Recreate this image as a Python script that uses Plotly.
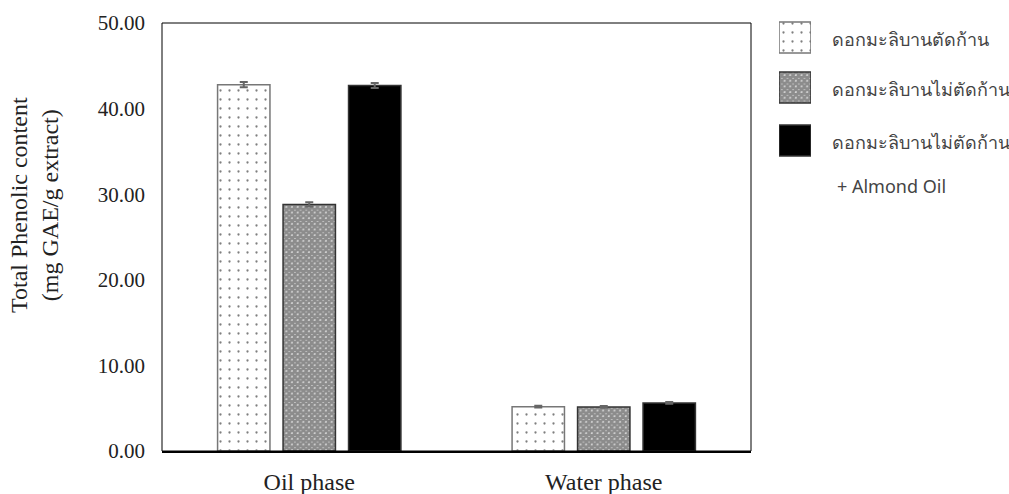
import plotly.graph_objects as go

categories = ["Oil phase", "Water phase"]
series_names = ["ดอกมะลิบานตัดก้าน", "ดอกมะลิบานไม่ตัดก้าน", "ดอกมะลิบานไม่ตัดก้าน"]
legend_extra = "+ Almond Oil"
y_title = "Total Phenolic content<br>(mg GAE/g extract)"
values_cut = [42.8, 5.18]
values_uncut = [28.8, 5.15]
values_almond = [42.7, 5.62]
err_cut = [0.3, 0.1]
err_uncut = [0.25, 0.1]
err_almond = [0.3, 0.1]
y_ticks = [0, 10, 20, 30, 40, 50]
y_tick_labels = ["0.00", "10.00", "20.00", "30.00", "40.00", "50.00"]

W, H = 1009, 494
ML, MR, MT, MB = 162, 9, 10, 43
PW, PH = W - ML - MR, H - MT - MB
main_x_end = (751 - ML) / PW
main_y_end = (451 - 23) / PH

def px_x(p):
    return (p - ML) / PW

dot_marker = dict(color="white", line=dict(color="#777777", width=1.5),
                  pattern=dict(shape=".", fgcolor="black", bgcolor="white", size=9, solidity=0.05))
grid_marker = dict(color="white", line=dict(color="#333333", width=1.5),
                   pattern=dict(shape="x", fgcolor="#1a1a1a", bgcolor="white", size=4, solidity=0.9))
solid_marker = dict(color="black", line=dict(color="#333333", width=1.5))
markers = [dot_marker, grid_marker, solid_marker]

fig = go.Figure()
err_style = dict(type="data", color="#666666", thickness=2, width=4)

for vals, errs, name, mk in zip([values_cut, values_uncut, values_almond],
                                [err_cut, err_uncut, err_almond], series_names, markers):
    fig.add_trace(go.Bar(x=categories, y=vals, name=name, showlegend=False,
                         error_y=dict(array=errs, **err_style), marker=mk))

# custom legend boxes (pixel-like coordinates on an auxiliary axis)
legend_tops = [22, 72, 125]
legend_h = 31
for top, name, mk in zip(legend_tops, series_names, markers):
    fig.add_trace(go.Bar(x=[0], y=[legend_h], base=[top], offset=0, width=1,
                         xaxis="x2", yaxis="y2", marker=mk, showlegend=False,
                         hoverinfo="skip"))

legend_font = dict(family="Noto Sans, sans-serif", size=18, color="#444444")
annotations = []
for top, name in zip(legend_tops, series_names):
    annotations.append(dict(x=px_x(830), y=top + legend_h / 2 + 1, xref="paper", yref="y2", text=name,
                            showarrow=False, xanchor="left", yanchor="middle", font=legend_font))
annotations.append(dict(x=px_x(835), y=186, xref="paper", yref="y2", text=legend_extra,
                        showarrow=False, xanchor="left", yanchor="middle", font=legend_font))
annotations.append(dict(x=px_x(34), y=205, xref="paper", yref="y2", text=y_title, textangle=-90,
                        showarrow=False, xanchor="center", yanchor="middle",
                        font=dict(family="Liberation Serif, Times New Roman, serif", size=24, color="#222222")))

fig.update_layout(
    width=W, height=H,
    margin=dict(l=ML, r=MR, t=MT, b=MB, autoexpand=False),
    paper_bgcolor="white", plot_bgcolor="white",
    barmode="group", bargap=0.333, bargroupgap=0.2,
    font=dict(family="Liberation Serif, Times New Roman, serif", color="#222222", size=21),
    showlegend=False,
    xaxis=dict(domain=[0, main_x_end], showline=True, linecolor="black", linewidth=2, ticks="",
               tickfont=dict(size=24), range=[-0.5, 1.5], automargin=False, ticklabelstandoff=8),
    yaxis=dict(domain=[0, main_y_end], range=[0, 50], tickvals=y_ticks, ticktext=y_tick_labels,
               showgrid=False, ticks="", showline=False, zeroline=False, tickfont=dict(size=21),
               ticklabelstandoff=16, automargin=False),
    xaxis2=dict(domain=[px_x(779), px_x(811)], range=[0, 1], visible=False,
                anchor="y2", fixedrange=True),
    yaxis2=dict(domain=[0, 1], range=[H - MB, MT], visible=False, anchor="x2", fixedrange=True),
    shapes=[dict(type="rect", xref="paper", yref="paper", x0=0, x1=main_x_end, y0=0, y1=main_y_end,
                 line=dict(color="black", width=1))],
    annotations=annotations,
)

fig.write_html("out.html")
